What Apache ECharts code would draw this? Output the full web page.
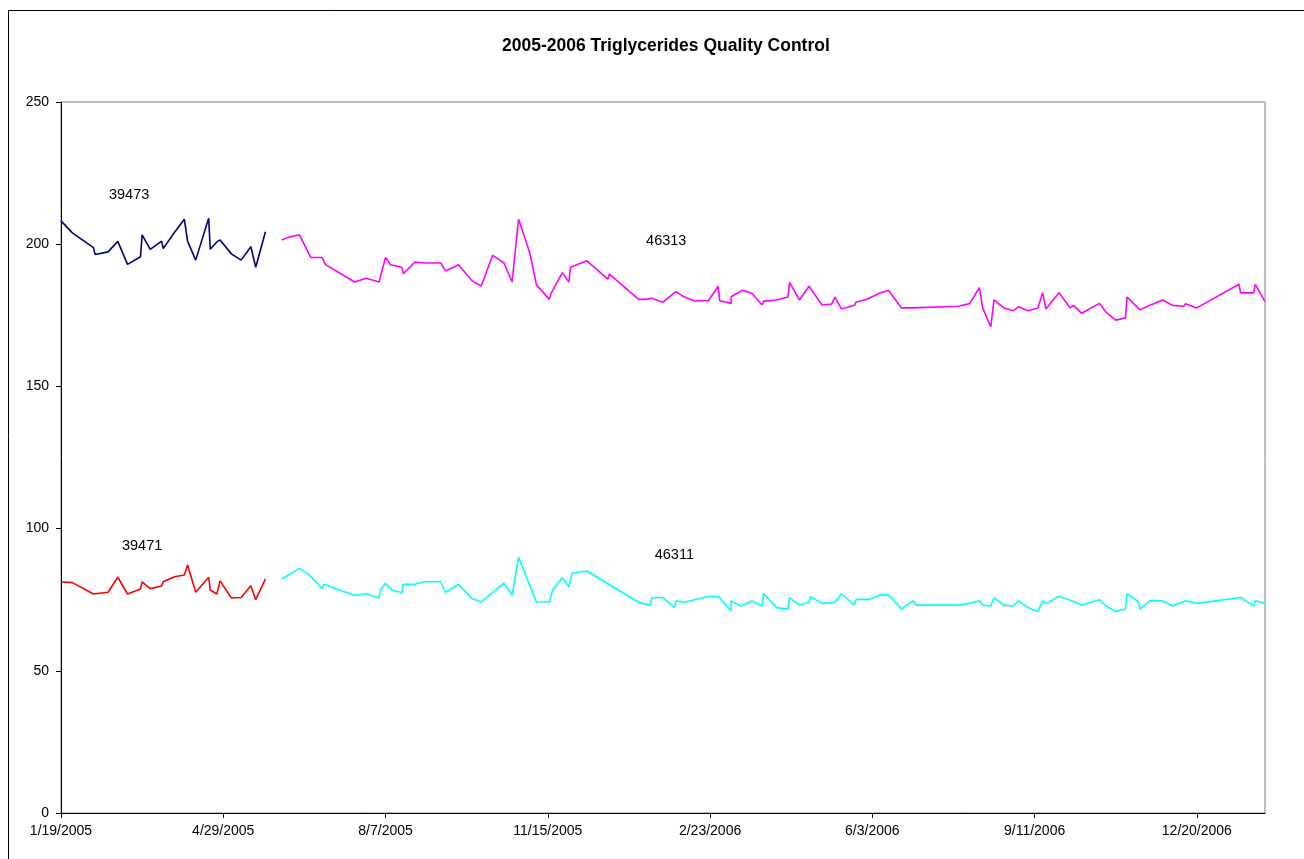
<!DOCTYPE html>
<html>
<head>
<meta charset="utf-8">
<title>2005-2006 Triglycerides Quality Control</title>
<script src="https://cdn.jsdelivr.net/npm/echarts@6/dist/echarts.min.js"></script>
<style>
  html, body { margin: 0; padding: 0; background: #fff; }
  #main { width: 1304px; height: 859px; }
</style>
</head>
<body>
<div id="main"></div>
<script>
// x values are days since 1/19/2005
const startDate = Date.UTC(2005, 0, 19)
const xTicks = [0, 100, 200, 300, 400, 500, 600, 700]

// lots 39473 / 39471 share run dates
const daysOld = [0, 7, 20, 21, 29, 35, 41, 49, 50, 55, 62, 63, 70, 76, 78, 83, 91, 92, 96, 98, 105, 111, 117, 120, 126]
const lot39473 = [208.2, 204.0, 198.8, 196.4, 197.3, 201.0, 192.9, 195.6, 203.3, 198.2, 201.1, 198.5, 204.2, 208.8, 201.1, 194.4, 209.1, 198.2, 200.8, 201.5, 196.6, 194.4, 199.1, 191.9, 204.4]
const lot39471 = [81.3, 81.0, 77.0, 77.6, 77.6, 82.9, 77.0, 78.8, 81.3, 78.9, 79.8, 81.3, 83.1, 83.7, 87.2, 77.6, 82.9, 78.4, 77.0, 81.6, 75.6, 75.8, 79.9, 75.0, 82.3]

const days46313 = [
  136, 140, 147, 154, 161, 163, 181, 188, 196, 197,
  200, 203, 210, 211, 218, 224, 234, 237, 245, 253,
  259, 266, 273, 278, 282, 289, 293, 301, 302, 309,
  313, 314, 324, 337, 338, 356, 360, 364, 371, 379,
  384, 390, 399, 405, 406, 413, 413, 420, 426, 432,
  433, 441, 448, 449, 455, 461, 469, 475, 477, 481,
  489, 490, 497, 505, 510, 518, 525, 526, 553, 560,
  566, 568, 573, 575, 581, 587, 590, 596, 602, 605,
  607, 615, 622, 624, 629, 640, 644, 650, 656, 657,
  665, 671, 679, 685, 692, 693, 700, 726, 727, 735,
  736, 742
]
const lot46313 = [
  201.5, 202.4, 203.3, 195.3, 195.3, 192.8, 186.7, 188.0, 186.7, 187.1,
  195.3, 192.8, 191.9, 189.6, 193.7, 193.4, 193.4, 190.6, 192.8, 187.3,
  185.3, 196.1, 193.4, 186.7, 208.8, 196.8, 185.7, 180.6, 182.7, 190.0,
  186.7, 191.9, 194.2, 187.7, 189.5, 180.6, 180.6, 181.0, 179.6, 183.3,
  181.5, 180.1, 180.1, 185.2, 180.1, 179.2, 181.5, 183.8, 182.7, 178.6,
  180.0, 180.4, 181.4, 186.6, 180.4, 185.2, 178.6, 179.0, 181.4, 177.2,
  178.5, 179.6, 180.7, 182.9, 183.7, 177.6, 177.6, 177.1, 178.2, 179.1,
  184.7, 177.6, 170.9, 180.4, 177.6, 176.6, 178.0, 176.6, 177.6, 182.9,
  177.2, 182.9, 177.6, 178.5, 175.7, 179.2, 176.1, 173.3, 174.1, 181.4,
  176.9, 178.5, 180.4, 178.5, 178.2, 179.1, 177.6, 185.9, 182.9, 182.9,
  185.9, 179.8
]

const days46311 = [
  136, 147, 153, 161, 162, 181, 188, 196, 197, 200,
  204, 210, 211, 218, 224, 234, 237, 245, 253, 259,
  273, 278, 282, 293, 301, 303, 309, 313, 315, 324,
  356, 363, 364, 371, 378, 379, 384, 399, 405, 413,
  413, 419, 426, 432, 433, 441, 448, 449, 455, 461,
  462, 469, 477, 481, 489, 490, 498, 505, 510, 518,
  525, 527, 553, 560, 566, 568, 573, 575, 581, 587,
  590, 596, 602, 605, 607, 615, 623, 629, 640, 644,
  650, 656, 657, 664, 665, 671, 679, 685, 693, 700,
  727, 735, 736, 742
]
const lot46311 = [
  82.3, 86.0, 83.7, 78.9, 80.4, 76.5, 77.1, 75.6, 78.4, 80.8,
  78.3, 77.5, 80.4, 80.4, 81.3, 81.3, 77.6, 80.4, 75.5, 74.2,
  80.8, 76.6, 89.9, 74.2, 74.2, 78.4, 82.7, 79.5, 84.3, 85.1,
  74.1, 73.1, 75.7, 75.7, 72.3, 74.6, 74.1, 76.1, 76.1, 71.0,
  74.6, 72.8, 74.6, 72.8, 77.1, 72.2, 71.7, 75.7, 73.1, 74.1,
  76.1, 73.7, 74.1, 77.1, 73.1, 75.1, 75.1, 76.7, 76.7, 71.7,
  74.6, 73.1, 73.1, 73.7, 74.6, 73.1, 72.8, 75.7, 73.1, 72.8,
  74.6, 72.2, 70.8, 74.6, 73.7, 76.1, 74.6, 73.1, 75.0, 72.8,
  70.8, 71.7, 77.1, 74.3, 71.7, 74.6, 74.6, 72.8, 74.6, 73.7,
  75.8, 72.8, 74.6, 73.7
]

// where the lot names sit, [day, value]
const lotLabels = {
  '39473': [42, 217.3],
  '39471': [50, 93.9],
  '46313': [373, 201.1],
  '46311': [378, 90.7],
}

const font = '"Liberation Sans", Arial, sans-serif'

function fmtDate(d) {
  if (xTicks.indexOf(d) < 0) return ''
  let t = new Date(startDate + d * 86400000)
  return (t.getUTCMonth() + 1) + '/' + t.getUTCDate() + '/' + t.getUTCFullYear()
}

function pairs(xs, ys) {
  return xs.map((x, i) => [x, ys[i]])
}

function lotSeries(name, xs, ys, color) {
  return {
    name: name,
    type: 'line',
    data: pairs(xs, ys),
    symbol: 'none',
    lineStyle: { color: color, width: 1.6 },
    itemStyle: { color: color },
    markPoint: {
      symbol: 'circle',
      symbolSize: 1,
      itemStyle: { color: 'rgba(0,0,0,0)' },
      label: {
        show: true,
        position: 'inside',
        formatter: name,
        color: '#000',
        fontSize: 14.5,
        fontFamily: font,
      },
      data: [{ coord: lotLabels[name] }],
    },
  }
}

let chart = echarts.init(document.getElementById('main'))
chart.setOption({
  animation: false,
  backgroundColor: '#fff',
  title: {
    text: '2005-2006 Triglycerides Quality Control',
    left: 497,
    top: 32,
    textStyle: { fontSize: 17.5, fontWeight: 'bold', color: '#000', fontFamily: font },
  },
  graphic: [
    {
      type: 'rect',
      shape: { x: 8.5, y: 10.5, width: 1320, height: 880 },
      style: { fill: 'none', stroke: '#000', lineWidth: 1 },
      silent: true,
    },
  ],
  grid: {
    left: 61, right: 39, top: 102, bottom: 46,
    show: true,
    borderColor: '#808080',
    borderWidth: 1,
  },
  xAxis: {
    type: 'value',
    min: 0,
    max: 742,
    interval: 100,
    axisLine: { show: true, lineStyle: { color: '#000', width: 1 } },
    axisTick: { show: true, inside: false, length: 5, lineStyle: { color: '#000' } },
    axisLabel: {
      color: '#000', fontSize: 14, fontFamily: font, margin: 11,
      showMaxLabel: false,
      formatter: fmtDate,
    },
    splitLine: { show: false },
  },
  yAxis: {
    type: 'value',
    min: 0,
    max: 250,
    interval: 50,
    axisLine: { show: true, lineStyle: { color: '#000', width: 1 } },
    axisTick: { show: true, inside: false, length: 5, lineStyle: { color: '#000' } },
    axisLabel: { color: '#000', fontSize: 14, fontFamily: font, margin: 12 },
    splitLine: { show: false },
  },
  series: [
    lotSeries('39473', daysOld, lot39473, '#000080'),
    lotSeries('39471', daysOld, lot39471, '#ff0000'),
    lotSeries('46313', days46313, lot46313, '#ff00ff'),
    lotSeries('46311', days46311, lot46311, '#00ffff'),
  ],
})
</script>
</body>
</html>
